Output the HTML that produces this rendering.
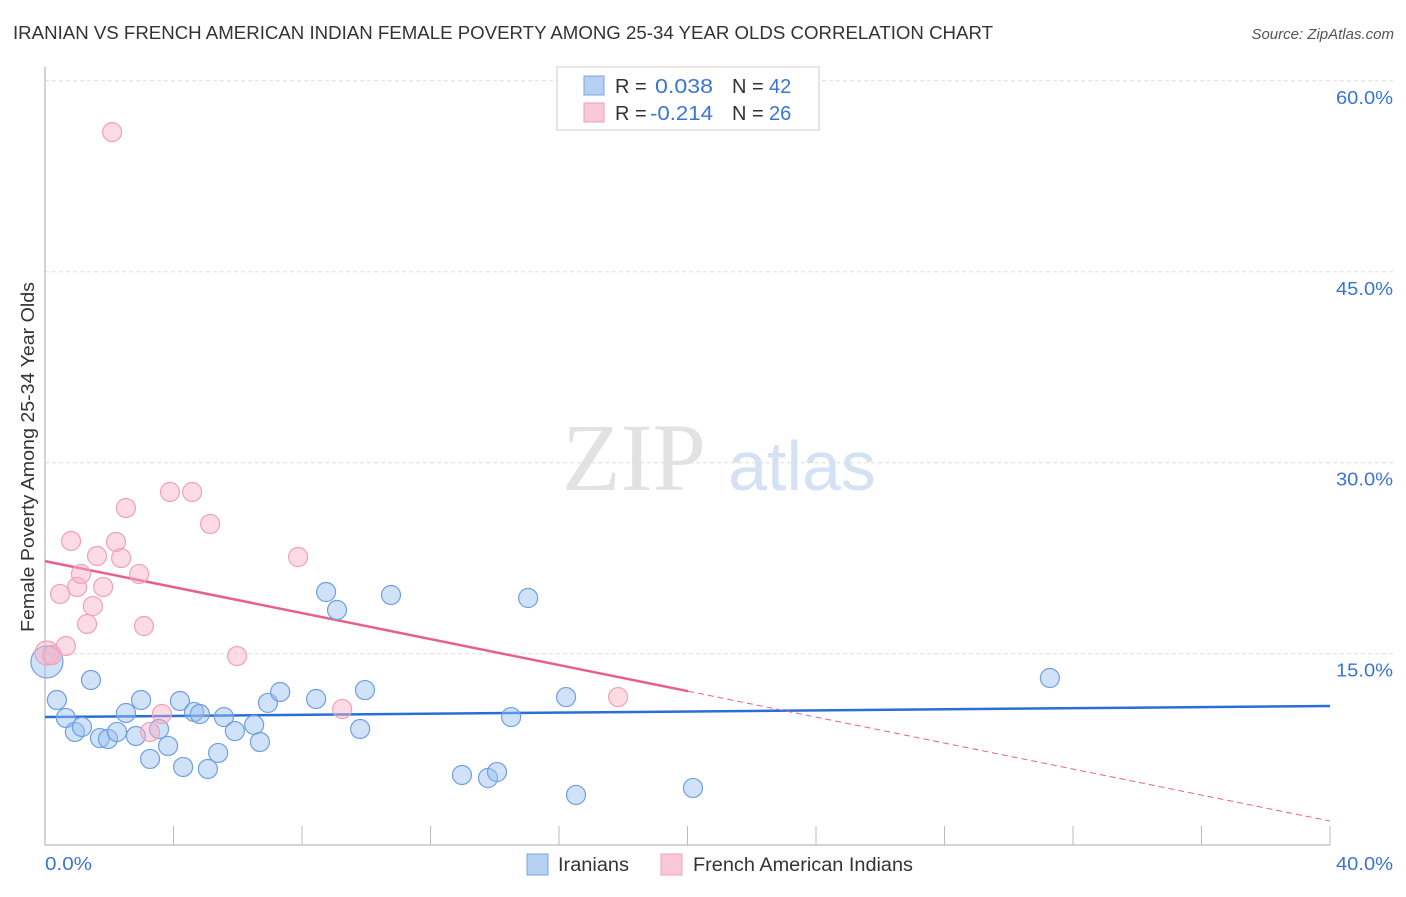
<!DOCTYPE html>
<html><head><meta charset="utf-8"><style>
body{margin:0;background:#fff;font-family:"Liberation Sans",sans-serif;}
svg text{font-family:"Liberation Sans",sans-serif;}
</style></head><body>
<svg id="chart" width="1406" height="892" viewBox="0 0 1406 892" xmlns="http://www.w3.org/2000/svg">
<text x="13" y="39" font-size="18" fill="#333" textLength="980" lengthAdjust="spacingAndGlyphs">IRANIAN VS FRENCH AMERICAN INDIAN FEMALE POVERTY AMONG 25-34 YEAR OLDS CORRELATION CHART</text>
<text x="1394" y="39" font-size="15" fill="#555" font-style="italic" text-anchor="end">Source: ZipAtlas.com</text>
<g>
<text x="634" y="490" font-size="96" fill="#e2e2e2" text-anchor="middle" style="font-family:'Liberation Serif',serif">ZIP</text>
<text x="802" y="490" font-size="70" fill="#d4e2f4" text-anchor="middle">atlas</text>
</g>
<g id="grid"></g>
<g id="axes"></g>
<g id="trends"></g>
<g id="points"></g>
<text transform="translate(34,457) rotate(-90)" font-size="18" fill="#333" text-anchor="middle" textLength="350" lengthAdjust="spacingAndGlyphs">Female Poverty Among 25-34 Year Olds</text>
<g>
<rect x="557" y="67" width="262" height="63" fill="#fff" stroke="#ccc"/>
<rect x="584" y="76" width="20" height="19" fill="#b6d0f2" stroke="#7aa6e0"/>
<rect x="584" y="103" width="20" height="19" fill="#f8c8d6" stroke="#ee9fb8"/>
<text x="615" y="93" font-size="20" fill="#333">R =</text>
<text x="655" y="93" font-size="20" fill="#3a75d6" textLength="58" lengthAdjust="spacingAndGlyphs">0.038</text>
<text x="732" y="93" font-size="20" fill="#333">N =</text>
<text x="769" y="93" font-size="20" fill="#3a75d6">42</text>
<text x="615" y="120" font-size="20" fill="#333">R =</text>
<text x="650" y="120" font-size="20" fill="#3a75d6" textLength="63" lengthAdjust="spacingAndGlyphs">-0.214</text>
<text x="732" y="120" font-size="20" fill="#333">N =</text>
<text x="769" y="120" font-size="20" fill="#3a75d6">26</text>
</g>
<g>
<rect x="527" y="854" width="21" height="21" fill="#b6d0f2" stroke="#7aa6e0"/>
<text x="558" y="871" font-size="19" fill="#333" textLength="71" lengthAdjust="spacingAndGlyphs">Iranians</text>
<rect x="661" y="854" width="21" height="21" fill="#f8c8d6" stroke="#ee9fb8"/>
<text x="693" y="871" font-size="19" fill="#333" textLength="220" lengthAdjust="spacingAndGlyphs">French American Indians</text>
</g>
</svg>
<script>
const yTicks=[15,30,45,60];
const yTickLabels=["15.0%","30.0%","45.0%","60.0%"];
const xTickLabels=["0.0%","40.0%"];
const iranX=[0.06,0.37,0.65,0.93,1.15,1.43,1.71,1.96,2.24,2.52,2.83,2.99,3.27,3.55,3.83,4.20,4.30,4.64,4.82,5.07,5.39,5.57,5.91,6.51,6.69,6.94,7.32,8.44,8.75,9.09,9.81,9.96,10.77,12.98,13.79,14.07,14.51,15.04,16.22,16.53,20.17,31.28];
const iranY=[14.35,11.36,9.95,8.85,9.24,12.93,8.37,8.30,8.85,10.34,8.53,11.36,6.73,9.08,7.75,11.28,6.10,10.42,10.26,5.94,7.20,10.02,8.92,9.40,8.06,11.13,11.99,11.44,19.84,18.43,9.08,12.14,19.61,5.47,5.23,5.70,10.02,19.37,11.59,3.90,4.45,13.09];
const frX=[2.09,0.06,0.22,0.65,0.81,0.47,1.00,1.12,1.31,1.49,1.62,1.81,2.21,2.37,2.52,2.93,3.08,3.27,3.64,3.89,4.58,5.14,5.98,7.88,9.25,17.84];
const frY=[55.97,15.05,14.89,15.60,23.85,19.69,20.24,21.26,17.33,18.74,22.67,20.24,23.77,22.51,26.44,21.26,17.17,8.85,10.26,27.70,27.70,25.19,14.81,22.59,10.65,11.59];
const iranTrend=[10.02,10.89];
const frTrend=[22.27,1.85];
const frSolidEnd=20.02;

const NS="http://www.w3.org/2000/svg";
const X=v=>45+v*32.125;
const Y=v=>844.6-v*12.73;
function mk(tag,attrs,parent){const e=document.createElementNS(NS,tag);for(const k in attrs)e.setAttribute(k,attrs[k]);document.getElementById(parent).appendChild(e);return e;}

yTicks.forEach((t,i)=>{
  const g=mk('line',{x1:45,x2:1393,y1:Y(t),y2:Y(t),stroke:'#ddd','stroke-dasharray':'4,3'},'grid');
  
  
  const l=mk('text',{x:1393,y:Y(t)+23,'font-size':18,fill:'#3a75d6','text-anchor':'end',textLength:57,lengthAdjust:'spacingAndGlyphs'},'grid');
  l.textContent=yTickLabels[i];
  
  
});
const ax=mk('line',{x1:45,x2:45,y1:67,y2:845,stroke:'#aaa'},'axes');


const bx=mk('line',{x1:45,x2:1330,y1:845,y2:845,stroke:'#aaa'},'axes');


for(let i=1;i<=10;i++){
  const t=mk('line',{x1:X(i*4),x2:X(i*4),y1:826,y2:845,stroke:'#bbb'},'axes');
  
  
}
[[0,'start',47],[40,'end',57]].forEach((p,i)=>{
  const l=mk('text',{x:i?1393:45,y:870,'font-size':18,fill:'#3a75d6','text-anchor':p[1],textLength:p[2],lengthAdjust:'spacingAndGlyphs'},'axes');
  l.textContent=xTickLabels[i];
  
  
});

const bt=mk('line',{x1:X(0),y1:Y(iranTrend[0]),x2:X(40),y2:Y(iranTrend[1]),stroke:'#2a6fd6','stroke-width':2.5},'trends');


const fs=frTrend[0]+(frTrend[1]-frTrend[0])*frSolidEnd/40;
const pt=mk('line',{x1:X(0),y1:Y(frTrend[0]),x2:X(frSolidEnd),y2:Y(fs),stroke:'#e8608a','stroke-width':2.5},'trends');


const pd=mk('line',{x1:X(frSolidEnd),y1:Y(fs),x2:X(40),y2:Y(frTrend[1]),stroke:'#e8608a','stroke-width':1,'stroke-dasharray':'6,4'},'trends');



iranX.forEach((x,i)=>{
  const c=mk('circle',{cx:X(x),cy:Y(iranY[i]),r:i===0?16:9.5,fill:'rgba(150,190,240,0.45)',stroke:'#6e9fe0','stroke-width':1.2},'points');
  
  
});
frX.forEach((x,i)=>{
  const c=mk('circle',{cx:X(x),cy:Y(frY[i]),r:i===1?12:9.5,fill:'rgba(248,175,198,0.45)',stroke:'#f0a0ba','stroke-width':1.2},'points');
  
  
});
</script>
</body></html>
